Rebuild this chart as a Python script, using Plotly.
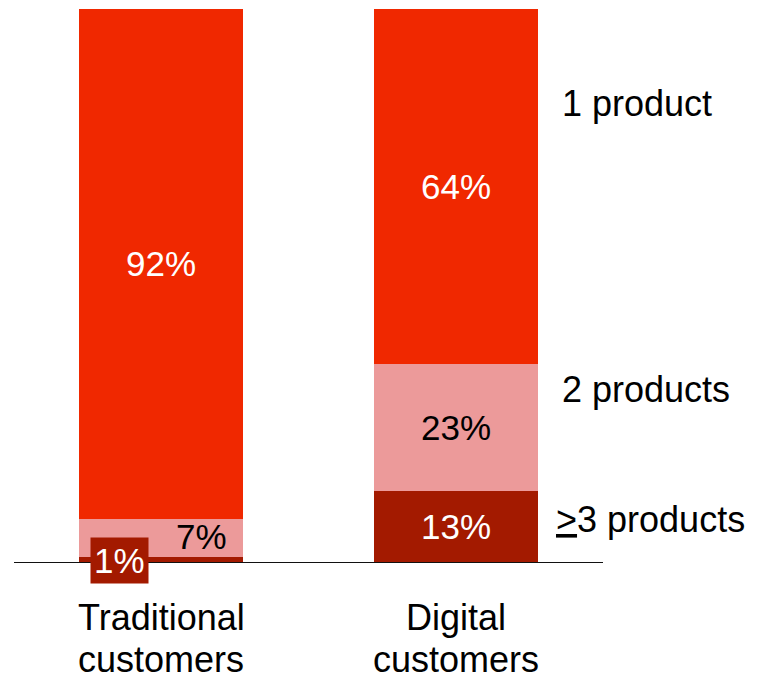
import plotly.graph_objects as go

# Share of customers by number of products held
categories = [("Traditional", "customers"), ("Digital", "customers")]
segments = ["<u>></u>3 products", "2 products", "1 product"]
three_plus = [1, 13]
two_products = [7, 23]
one_product = [92, 64]

colors = ["#A31A00", "#EC9A9A", "#F02800"]
label_colors = ["white", "black", "white"]
FONT = "Liberation Sans, Arial, sans-serif"
SIZE = 35
TEXT_SIZE = 36

series = [three_plus, two_products, one_product]
xpos = list(range(len(categories)))

fig = go.Figure()
for name, vals, col in zip(segments, series, colors):
    fig.add_trace(go.Bar(
        x=xpos, y=vals, name=name, marker=dict(color=col, line=dict(width=0)),
        width=0.557, showlegend=False, hoverinfo="skip",
    ))

annotations = []
# value labels in the middle of each segment
for ci in xpos:
    base = 0
    for si, vals in enumerate(series):
        v = vals[ci]
        mid = base + v / 2
        base += v
        ann = dict(x=ci, y=mid, xref="x", yref="y", text=f"{v}%", showarrow=False,
                   font=dict(family=FONT, size=SIZE, color=label_colors[si]))
        if v < 5 and si == 0:
            # tiny bottom segment: boxed label hanging below the baseline
            ann.update(y=0, yanchor="middle", xshift=-42, yshift=3,
                       bgcolor=colors[0], borderpad=3)
        elif v < 10:
            ann.update(xshift=40, yshift=8, y=mid - 1.2)
        annotations.append(ann)

# category names under the bars, one annotation per line
for ci, (line1, line2) in zip(xpos, categories):
    for txt, shift in ((line1, -54), (line2, -96)):
        annotations.append(dict(x=ci, y=0, xref="x", yref="y", yanchor="middle",
                                yshift=shift, text=txt, showarrow=False,
                                font=dict(family=FONT, size=TEXT_SIZE, color="black")))

# segment names to the right of the digital bar
right_labels = [("1 product", 82.9, 1.354), ("2 products", 31.4, 1.354),
                ("<u>></u>3 products", 7.9, 1.333)]
for txt, yv, xv in right_labels:
    annotations.append(dict(x=xv, y=yv, xref="x", yref="y", xanchor="left",
                            text=txt, showarrow=False,
                            font=dict(family=FONT, size=TEXT_SIZE, color="black")))

fig.update_layout(
    barmode="stack",
    width=759, height=679,
    margin=dict(l=14, r=156, t=9, b=116),
    paper_bgcolor="white", plot_bgcolor="white",
    xaxis=dict(range=[-0.5, 1.5], visible=False, fixedrange=True),
    yaxis=dict(range=[0, 100], visible=False, fixedrange=True),
    annotations=annotations,
    shapes=[dict(type="line", xref="paper", yref="y", x0=0, x1=1, y0=0, y1=0,
                 line=dict(color="#111111", width=2))],
)

fig.write_html("out.html")
